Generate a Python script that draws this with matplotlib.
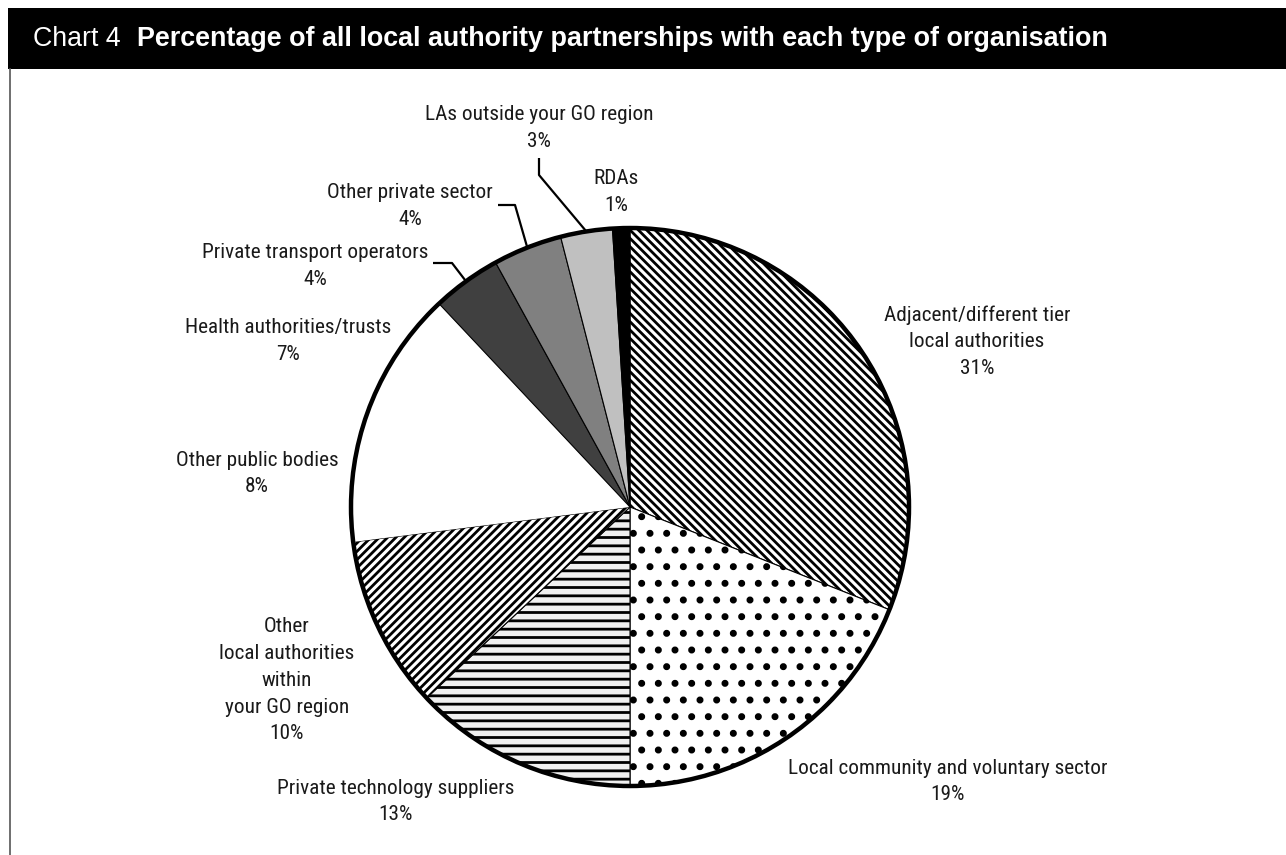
import matplotlib
matplotlib.use("Agg")
import matplotlib.pyplot as plt
from matplotlib import font_manager
from matplotlib.patches import Rectangle, Circle
import numpy as np

# partnership shares (%), clockwise from 12 o'clock
sectors = ["Adjacent/different tier\nlocal authorities",
           "Local community and voluntary sector",
           "Private technology suppliers",
           "Other\nlocal authorities\nwithin\nyour GO region",
           "Other public bodies",
           "Health authorities/trusts",
           "Private transport operators",
           "Other private sector",
           "LAs outside your GO region",
           "RDAs"]
shares = [31, 19, 13, 10, 8, 7, 4, 4, 3, 1]

fills = ["white", "white", "#f0f0f0", "white", "white", "white",
         "#404040", "#808080", "#c0c0c0", "black"]
hatches = ["\\\\\\\\", ".", "--", "////", None, None, None, None, None, None]

W, H = 1286, 855
plt.rcParams["hatch.linewidth"] = 2.0

# narrow face for the slice labels, whichever is on the system
fonts = font_manager.fontManager.ttflist
names = {f.name for f in fonts}
if "Liberation Sans Narrow" in names:
    LBL = dict(family="Liberation Sans Narrow", fontsize=14.5)
elif "Roboto Condensed" in names:
    LBL = dict(family="Roboto Condensed", fontsize=15.3)
elif any(f.name == "DejaVu Sans" and f.stretch == "condensed" for f in fonts):
    LBL = dict(family="DejaVu Sans", fontstretch="condensed", fontsize=13.5)
else:
    LBL = dict(family="Liberation Sans", fontsize=13)

fig = plt.figure(figsize=(W / 100, H / 100), dpi=100)
ax = fig.add_axes([0, 0, 1, 1])

def py(y):
    # pixel rows counted from the top
    return H - y

cx, cy, R = 630, py(507), 279
wedges, _ = ax.pie(shares, colors=fills, startangle=90, counterclock=False,
                   center=(cx, cy), radius=R,
                   wedgeprops=dict(edgecolor="black", linewidth=0.8))
for w, h, c in zip(wedges, hatches, fills):
    if h:
        w.set_hatch(h)
        if h == "." and hasattr(w, "set_hatch_linewidth"):
            w.set_hatch_linewidth(2.6)
    if c == "white" and not h:
        w.set_linewidth(0)
ax.add_patch(Circle((cx, cy), R, fill=False, edgecolor="black", lw=3.2, zorder=5))

ax.set_xlim(0, W)
ax.set_ylim(0, H)
ax.set_aspect("auto")
ax.axis("off")

# header bar and left rule
ax.add_patch(Rectangle((8, py(69)), W - 8, 61, facecolor="black", edgecolor="none"))
ax.plot([10, 10], [py(69), 0], color="#555555", lw=1.2)
ax.text(33, py(46), "Chart 4", color="white", fontsize=19.3,
        family="Liberation Sans", va="baseline", ha="left")
ax.text(137, py(46),
        "Percentage of all local authority partnerships with each type of organisation",
        color="white", fontsize=19.4, fontweight="bold",
        family="Liberation Sans", va="baseline", ha="left")

LINE = 26.7

def label(x, y, name, pct):
    rows = name.split("\n") + ["%d%%" % pct]
    for i, r in enumerate(rows):
        ax.text(x, py(y + i * LINE), r, ha="center", va="center",
                color="#1a1a1a", **LBL)

spots = [(977, 315), (948, 768), (396, 788), (287, 627), (257, 460),
         (288, 328), (315, 253), (410, 193), (539, 115), (616, 179)]
for (x, y), n, s in zip(spots, sectors, shares):
    label(x, y, n, s)

# leader lines to the three thin top slices
def rim(w):
    mid = np.deg2rad((w.theta1 + w.theta2) / 2)
    return cx + R * np.cos(mid), cy + R * np.sin(mid)

legs = {6: [(433, 263), (452, 263)],
        7: [(498, 205), (515, 205)],
        8: [(539, 158), (539, 175)]}
for i, pts in legs.items():
    ex, ey = rim(wedges[i])
    xs = [p[0] for p in pts] + [ex]
    ys = [py(p[1]) for p in pts] + [ey]
    ax.plot(xs, ys, color="black", lw=1.6, zorder=6, solid_capstyle="butt")

fig.savefig("out.png", dpi=100)
